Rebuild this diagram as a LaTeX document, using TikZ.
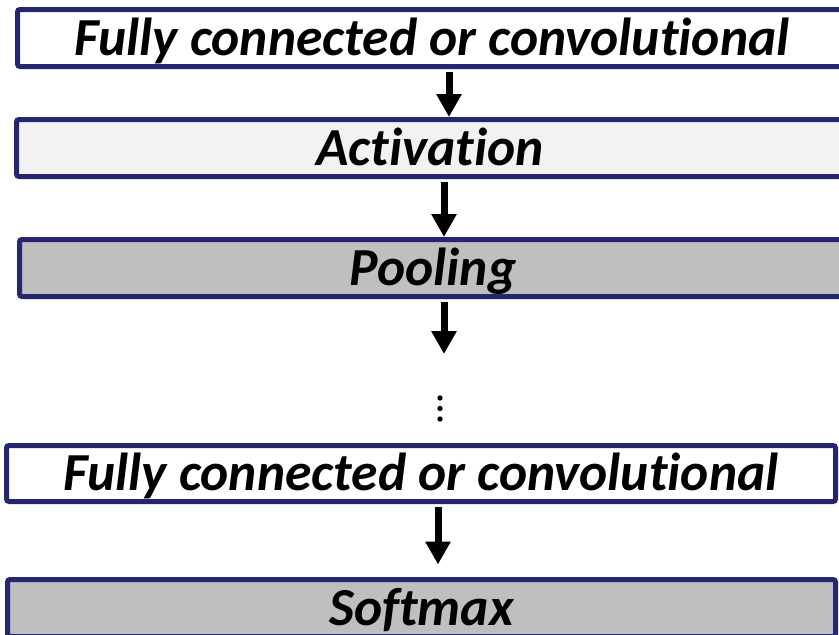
\documentclass[tikz,border=0pt]{standalone}
\usepackage{fontspec}
\setmainfont{Carlito}[Ligatures={NoCommon,NoRare,NoContextual}]
\usetikzlibrary{arrows.meta}
\definecolor{layerline}{RGB}{37,37,112}
\definecolor{lightfill}{RGB}{242,242,242}
\definecolor{darkfill}{RGB}{191,191,191}
\tikzset{
  layer/.style={draw=layerline, line width=5pt, rounded corners=2.5pt,
    inner sep=0pt, minimum height=57pt, text height=34pt, text depth=0pt,
    font=\fontsize{53.5}{64}\selectfont\bfseries\itshape},
  flow/.style={line width=7pt, shorten <=2.5pt,
    -{Triangle[width=24pt,length=23pt]}},
}
\begin{document}
\begin{tikzpicture}[x=1pt,y=-1pt]
  \useasboundingbox (0,0) rectangle (839,635);
  \clip (0,0) rectangle (839,635);

  % layer boxes
  \node[layer, fill=white, minimum width=829pt] (fc1) at (432,38) {Fully connected or convolutional};
  \node[layer, fill=lightfill, minimum width=827pt] (act) at (430,148) {Activation};
  \node[layer, fill=darkfill, minimum width=827pt] (pool) at (433,268) {Pooling};
  \node[layer, fill=white, minimum width=829pt, minimum height=56pt] (fc2) at (421,473.5) {Fully connected or convolutional};
  \node[layer, fill=darkfill, minimum width=828pt] (soft) at (421.5,608) {Softmax};

  % arrow columns
  \coordinate (x1) at (449,0);
  \coordinate (x2) at (444,0);
  \coordinate (x4) at (438,0);
  \coordinate (poolend) at (444,354);

  \draw[flow] (fc1.south -| x1) -- (act.north -| x1);
  \draw[flow] (act.south -| x2) -- (pool.north -| x2);
  \draw[flow] (pool.south -| x2) -- (poolend);
  \draw[flow, shorten >=12.5pt] (fc2.south -| x4) -- (soft.north -| x4);

  % vertical ellipsis
  \foreach \y in {398,408.5,419}
    \fill (440,\y) circle[radius=2.7pt];
\end{tikzpicture}
\end{document}
